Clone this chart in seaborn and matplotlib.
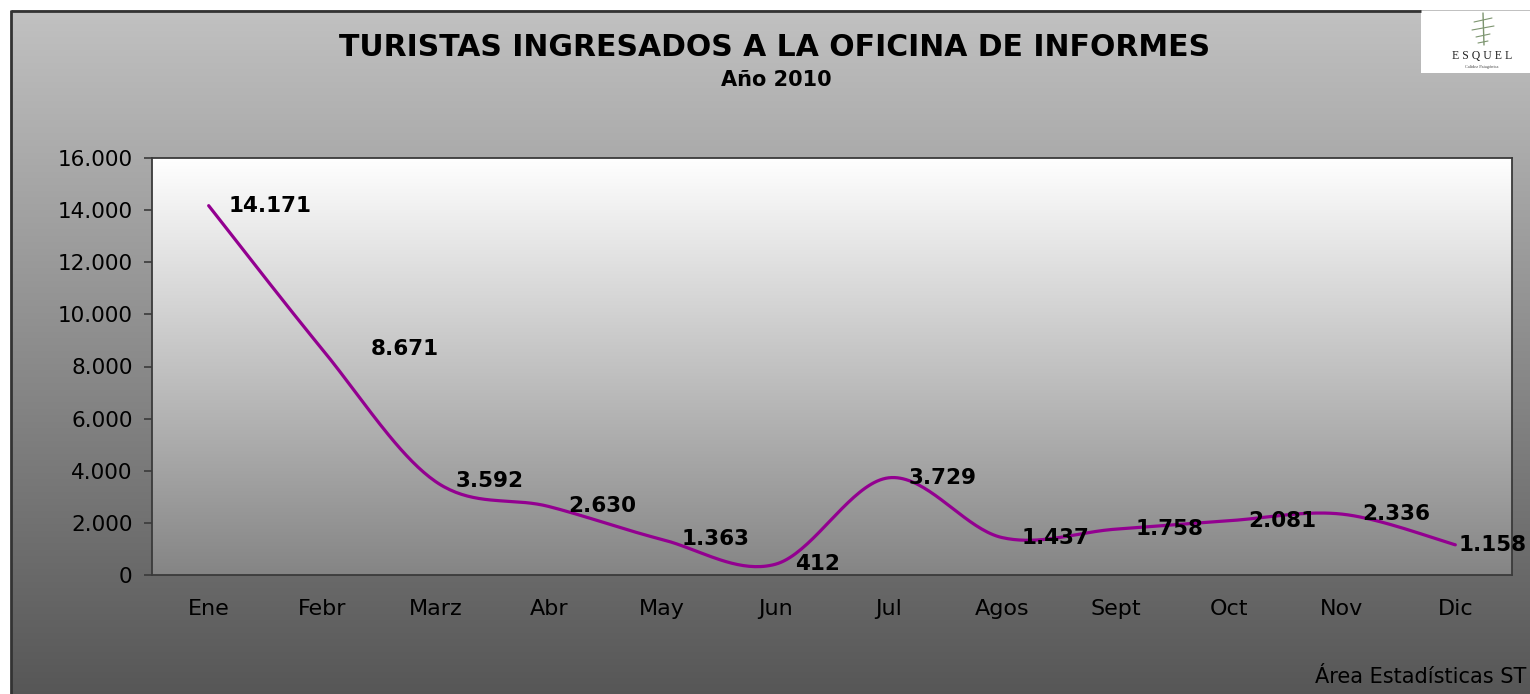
import numpy as np
import pandas as pd
import matplotlib
matplotlib.use("Agg")
import matplotlib.pyplot as plt
from matplotlib.ticker import FuncFormatter, MultipleLocator
from matplotlib.patches import Rectangle
import seaborn as sns

# ---- data ----
months = ["Ene", "Febr", "Marz", "Abr", "May", "Jun", "Jul", "Agos", "Sept", "Oct", "Nov", "Dic"]
visitors = [14171, 8671, 3592, 2630, 1363, 412, 3729, 1437, 1758, 2081, 2336, 1158]
label_dx_px = [20, 49, 20, 20, 20, 20, 20, 20, 20, 20, 20, 3]

title = "TURISTAS INGRESADOS A LA OFICINA DE INFORMES"
subtitle = "Año 2010"
source = "Área Estadísticas ST"

sns.set_theme(style="white")
plt.rcParams['font.family'] = ['DejaVu Sans']

W, H = 1530, 694
fig = plt.figure(figsize=(W / 100, H / 100), dpi=100)
fig.patch.set_facecolor("white")

# ---- background (figure) gradient ----
bg = fig.add_axes([0, 0, 1, 1], zorder=-10)
bg.set_xlim(0, W)
bg.set_ylim(H, 0)
bg.axis("off")
grad = np.linspace(0, 1, 256)[:, None]
top_c = np.array([0.757, 0.757, 0.757])
bot_c = np.array([0.34, 0.34, 0.34])
img = top_c[None, None, :] * (1 - grad[:, :, None]) + bot_c[None, None, :] * grad[:, :, None]
bg.imshow(img, extent=(11, W, H, 10), aspect="auto", interpolation="bilinear")
bg.plot([11, 11], [H, 10], color="#333333", lw=2.0, solid_capstyle="butt")
bg.plot([11, 1421], [10.5, 10.5], color="#333333", lw=2.0, solid_capstyle="butt")
# logo box
bg.add_patch(Rectangle((1421, 11), W - 1421, 62, facecolor="white", edgecolor="none"))
tree_c = "#7d9570"
bg.plot([1483, 1484], [13, 45], color=tree_c, lw=1.0)
for (x0, y0, x1, y1) in [(1474, 22, 1492, 18), (1472, 30, 1494, 26), (1476, 37, 1490, 34), (1478, 43, 1488, 41)]:
    bg.plot([x0, x1], [y0, y1], color=tree_c, lw=0.8)
bg.text(1482, 56, "E S Q U E L", ha="center", va="center", fontsize=8.5,
        family=["Liberation Serif", "DejaVu Serif"], color="#222222")
bg.text(1482, 67, "Calidez Patagónica", ha="center", va="center", fontsize=3.2,
        family=["Liberation Serif", "DejaVu Serif"], color="#444444")

# ---- main axes ----
L, R, T, B = 152, 1512, 158, 575
ax = fig.add_axes([L / W, 1 - B / H, (R - L) / W, (B - T) / H])
ax.set_facecolor("none")
ax.set_xlim(-0.5, len(months) - 0.5)
ax.set_ylim(0, 16000)

# plot-area gradient
g2 = np.linspace(0, 1, 256)[:, None]
pc_top = np.array([1.0, 1.0, 1.0])
pc_bot = np.array([0.52, 0.52, 0.52])
img2 = pc_top[None, None, :] * (1 - g2[:, :, None]) + pc_bot[None, None, :] * g2[:, :, None]
ax.imshow(img2, extent=(-0.5, len(months) - 0.5, 0, 16000), aspect="auto",
          interpolation="bilinear", zorder=0)

# smoothed line (Excel-style Bezier smoothing computed from the data)
xs = np.arange(len(months), dtype=float)
ys = np.array(visitors, dtype=float)
px = np.concatenate([[xs[0]], xs, [xs[-1]]])
py = np.concatenate([[ys[0]], ys, [ys[-1]]])
t = np.linspace(0, 1, 40)[:, None]
cx, cy = [], []
for i in range(len(xs) - 1):
    p0 = np.array([px[i + 1], py[i + 1]])
    p3 = np.array([px[i + 2], py[i + 2]])
    c1 = p0 + (np.array([px[i + 2], py[i + 2]]) - np.array([px[i], py[i]])) / 6
    c2 = p3 - (np.array([px[i + 3], py[i + 3]]) - np.array([px[i + 1], py[i + 1]])) / 6
    pts = ((1 - t) ** 3) * p0 + 3 * ((1 - t) ** 2) * t * c1 + 3 * (1 - t) * t ** 2 * c2 + t ** 3 * p3
    if i > 0:
        pts = pts[1:]
    cx.append(pts[:, 0])
    cy.append(pts[:, 1])
curve = pd.DataFrame({"x": np.concatenate(cx), "y": np.concatenate(cy)})
sns.lineplot(data=curve, x="x", y="y", ax=ax, color="#930090", lw=2.3, sort=False,
             estimator=None, zorder=3)

# data labels
for i, v in enumerate(visitors):
    ax.annotate(f"{v:,}".replace(",", "."), xy=(i, v), xytext=(label_dx_px[i] * 0.72, 0),
                textcoords="offset points", ha="left", va="center", fontsize=15.5,
                fontweight="bold", color="black", zorder=4, annotation_clip=False)

# axes styling
for s in ax.spines.values():
    s.set_visible(True)
    s.set_color("#3a3a3a")
    s.set_linewidth(1.3)
ax.set_xticks(xs)
ax.set_xticklabels(months)
ax.yaxis.set_major_locator(MultipleLocator(2000))
ax.yaxis.set_major_formatter(FuncFormatter(lambda v, p: f"{int(v):,}".replace(",", ".")))
ax.tick_params(axis="y", left=True, length=6, width=1.2, color="#3a3a3a", pad=8,
               labelsize=15.5, labelcolor="black")
ax.tick_params(axis="x", bottom=False, length=0, pad=17, labelsize=16, labelcolor="black")
ax.set_xlabel("")
ax.set_ylabel("")
if ax.get_legend():
    ax.get_legend().remove()

# titles
fig.text(775 / W, 1 - 48 / H, title, ha="center", va="center", fontsize=21.5,
         fontweight="bold", color="black")
fig.text(776 / W, 1 - 80 / H, subtitle, ha="center", va="center", fontsize=15,
         fontweight="bold", color="black")
fig.text(1315 / W, 1 - 677 / H, source, ha="left", va="center", fontsize=15, color="black")

fig.savefig("out.png", dpi=100)
